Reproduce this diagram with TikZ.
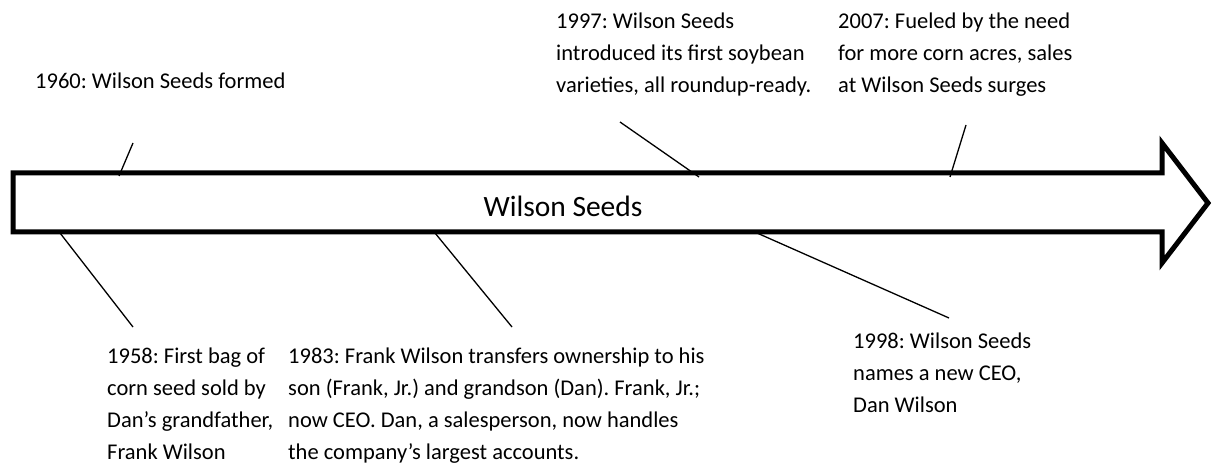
\documentclass[tikz,border=0pt]{standalone}
\usepackage{fontspec}
\setmainfont{Carlito}
\frenchspacing

\begin{document}
\begin{tikzpicture}[x=1pt,y=-1pt,
		event/.style={anchor=base west, inner sep=0pt, align=left, font=\fontsize{22.5}{32}\selectfont},
		tick/.style={line width=1.3pt}]

		\useasboundingbox (0,0) rectangle (1212,470);

		% outline of the arrow
		\coordinate (P1) at (13,173) ;
		\coordinate (P2) at (1162,173) ;
		\coordinate (P3) at (1162,143) ;
		\coordinate (T) at (1208,203) ;
		\coordinate (P4) at (1162,263) ;
		\coordinate (P5) at (1162,232) ;
		\coordinate (P6) at (13,232) ;

		\draw [line width=5pt, line join=miter] (P1)--(P2)--(P3)--(T)--(P4)--(P5)--(P6)--cycle;

		\node [anchor=base, inner sep=0pt, font=\fontsize{29.5}{32}\selectfont] (title) at (563,217) {Wilson Seeds};

		% events above (placed by the baseline of their last line)
		\node [event] (e1960) at (35,89) {1960: Wilson Seeds formed};
		\node [event] (e1997) at (556,93) {1997: Wilson Seeds\\introduced its first soybean\\varieties, all roundup-ready.};
		\node [event] (e2007) at (838,93) {2007: Fueled by the need\\for more corn acres, sales\\at Wilson Seeds surges};

		% events below
		\node [event] (e1958) at (107,459) {1958: First bag of\\corn seed sold by\\Dan’s grandfather,\\Frank Wilson};
		\node [event] (e1983) at (288,459) {1983: Frank Wilson transfers ownership to his\\son (Frank, Jr.) and grandson (Dan). Frank, Jr.;\\now CEO. Dan, a salesperson, now handles\\the company’s largest accounts.};
		\node [event] (e1998) at (853,412) {1998: Wilson Seeds\\names a new CEO,\\Dan Wilson};

		% ends of the pointers
		\coordinate (A1) at (119,176) ;  \coordinate (B1) at (133,143) ;
		\coordinate (A2) at (699,177) ;  \coordinate (B2) at (620,122) ;
		\coordinate (A3) at (950,177) ;  \coordinate (B3) at (966,125) ;
		\coordinate (A4) at (60,233) ;   \coordinate (B4) at (133,327) ;
		\coordinate (A5) at (435,233) ;  \coordinate (B5) at (512,327) ;
		\coordinate (A6) at (757,233) ;  \coordinate (B6) at (949,318) ;

		\draw [tick] (A1)--(B1);
		\draw [tick] (A2)--(B2);
		\draw [tick] (A3)--(B3);
		\draw [tick] (A4)--(B4);
		\draw [tick] (A5)--(B5);
		\draw [tick] (A6)--(B6);
\end{tikzpicture}
\end{document}
